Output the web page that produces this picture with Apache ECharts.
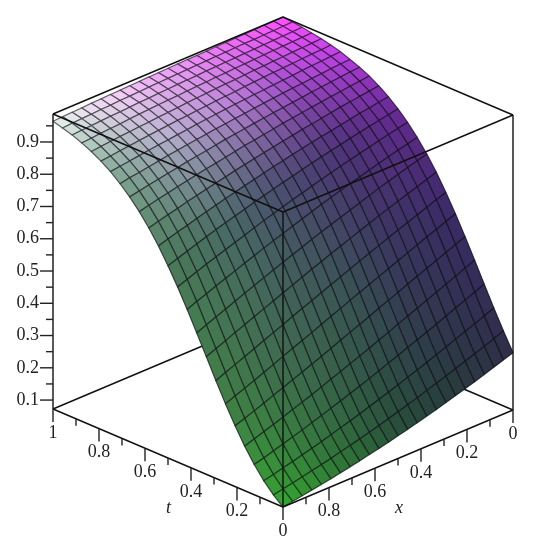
<!DOCTYPE html>
<html>
<head>
<meta charset="utf-8">
<script src="https://cdn.jsdelivr.net/npm/echarts@6/dist/echarts.min.js"></script>
<style>
  html, body { margin: 0; padding: 0; background: #fff; }
  #main { width: 536px; height: 550px; filter: blur(0.4px); }
</style>
</head>
<body>
<div id="main"></div>
<script>
  // 25 x 25 grid, x = i/24 and t = j/24, rows run along t
  const xSteps = [0, 1, 2, 3, 4, 5, 6, 7, 8, 9, 10, 11, 12, 13, 14, 15, 16, 17, 18, 19, 20, 21, 22, 23, 24]
  const tSteps = [0, 1, 2, 3, 4, 5, 6, 7, 8, 9, 10, 11, 12, 13, 14, 15, 16, 17, 18, 19, 20, 21, 22, 23, 24]
  const uValues = [
    [.250,.240,.230,.220,.210,.201,.192,.183,.174,.166,.158,.150,.143,.135,.128,.122,.115,.109,.103,.097,.092,.087,.082,.077,.072],
    [.305,.293,.282,.271,.261,.250,.240,.230,.220,.210,.201,.192,.183,.174,.166,.158,.150,.143,.135,.128,.122,.115,.109,.103,.097],
    [.363,.351,.339,.328,.316,.305,.293,.282,.271,.261,.250,.240,.230,.220,.210,.201,.192,.183,.174,.166,.158,.150,.143,.135,.128],
    [.424,.412,.400,.388,.375,.363,.351,.339,.328,.316,.305,.293,.282,.271,.261,.250,.240,.230,.220,.210,.201,.192,.183,.174,.166],
    [.486,.474,.461,.449,.437,.424,.412,.400,.388,.375,.363,.351,.339,.328,.316,.305,.293,.282,.271,.261,.250,.240,.230,.220,.210],
    [.546,.534,.522,.510,.498,.486,.474,.461,.449,.437,.424,.412,.400,.388,.375,.363,.351,.339,.328,.316,.305,.293,.282,.271,.261],
    [.604,.593,.581,.570,.558,.546,.534,.522,.510,.498,.486,.474,.461,.449,.437,.424,.412,.400,.388,.375,.363,.351,.339,.328,.316],
    [.658,.648,.637,.626,.615,.604,.593,.581,.570,.558,.546,.534,.522,.510,.498,.486,.474,.461,.449,.437,.424,.412,.400,.388,.375],
    [.708,.698,.688,.678,.668,.658,.648,.637,.626,.615,.604,.593,.581,.570,.558,.546,.534,.522,.510,.498,.486,.474,.461,.449,.437],
    [.752,.743,.735,.726,.717,.708,.698,.688,.678,.668,.658,.648,.637,.626,.615,.604,.593,.581,.570,.558,.546,.534,.522,.510,.498],
    [.791,.783,.776,.768,.760,.752,.743,.735,.726,.717,.708,.698,.688,.678,.668,.658,.648,.637,.626,.615,.604,.593,.581,.570,.558],
    [.825,.818,.812,.805,.798,.791,.783,.776,.768,.760,.752,.743,.735,.726,.717,.708,.698,.688,.678,.668,.658,.648,.637,.626,.615],
    [.854,.848,.843,.837,.831,.825,.818,.812,.805,.798,.791,.783,.776,.768,.760,.752,.743,.735,.726,.717,.708,.698,.688,.678,.668],
    [.879,.874,.869,.865,.859,.854,.848,.843,.837,.831,.825,.818,.812,.805,.798,.791,.783,.776,.768,.760,.752,.743,.735,.726,.717],
    [.900,.896,.892,.888,.884,.879,.874,.869,.865,.859,.854,.848,.843,.837,.831,.825,.818,.812,.805,.798,.791,.783,.776,.768,.760],
    [.918,.914,.911,.907,.904,.900,.896,.892,.888,.884,.879,.874,.869,.865,.859,.854,.848,.843,.837,.831,.825,.818,.812,.805,.798],
    [.932,.930,.927,.924,.921,.918,.914,.911,.907,.904,.900,.896,.892,.888,.884,.879,.874,.869,.865,.859,.854,.848,.843,.837,.831],
    [.944,.942,.940,.937,.935,.932,.930,.927,.924,.921,.918,.914,.911,.907,.904,.900,.896,.892,.888,.884,.879,.874,.869,.865,.859],
    [.955,.953,.951,.949,.947,.944,.942,.940,.937,.935,.932,.930,.927,.924,.921,.918,.914,.911,.907,.904,.900,.896,.892,.888,.884],
    [.963,.961,.960,.958,.956,.955,.953,.951,.949,.947,.944,.942,.940,.937,.935,.932,.930,.927,.924,.921,.918,.914,.911,.907,.904],
    [.970,.968,.967,.966,.964,.963,.961,.960,.958,.956,.955,.953,.951,.949,.947,.944,.942,.940,.937,.935,.932,.930,.927,.924,.921],
    [.975,.974,.973,.972,.971,.970,.968,.967,.966,.964,.963,.961,.960,.958,.956,.955,.953,.951,.949,.947,.944,.942,.940,.937,.935],
    [.980,.979,.978,.977,.976,.975,.974,.973,.972,.971,.970,.968,.967,.966,.964,.963,.961,.960,.958,.956,.955,.953,.951,.949,.947],
    [.984,.983,.982,.981,.980,.980,.979,.978,.977,.976,.975,.974,.973,.972,.971,.970,.968,.967,.966,.964,.963,.961,.960,.958,.956],
    [.987,.986,.986,.985,.984,.984,.983,.982,.981,.980,.980,.979,.978,.977,.976,.975,.974,.973,.972,.971,.970,.968,.967,.966,.964],
  ]
  const zMin = 0.0723
  const zMax = 0.9867
  const zMajorTicks = [0.1, 0.2, 0.3, 0.4, 0.5, 0.6, 0.7, 0.8, 0.9]
  const zMinorTicks = [0.15, 0.25, 0.35, 0.45, 0.55, 0.65, 0.75, 0.85, 0.95]
  const tMajorTicks = [0, 0.2, 0.4, 0.6, 0.8, 1]
  const tMinorTicks = [0.1, 0.3, 0.5, 0.7, 0.9]
  const xMajorTicks = [0, 0.2, 0.4, 0.6, 0.8]
  const xMinorTicks = [0.1, 0.3, 0.5, 0.7, 0.9]

  // colours, rows t = 0 .. 1, columns x = 0 .. 1
  const shade = [
    ["#2e2e48", "#283c3c", "#28503a", "#2f7a35", "#35a830"],
    ["#3a2a66", "#38385c", "#3a5852", "#3f6a50", "#3f7f45"],
    ["#6a2a98", "#50327a", "#4c4a72", "#4a6a68", "#4a7a58"],
    ["#c040e8", "#a850d0", "#b888d4", "#b4b0cc", "#85aa98"],
    ["#ff50ff", "#f070f8", "#f0a0f8", "#f8d4f8", "#e8f4ee"],
  ]

  function hex(c) {
    return [parseInt(c.slice(1, 3), 16), parseInt(c.slice(3, 5), 16), parseInt(c.slice(5, 7), 16)]
  }
  const shadeRgb = shade.map((r) => r.map(hex))

  function colorAt(x, t) {
    const a = Math.min(t * 4, 3.999)
    const b = Math.min(x * 4, 3.999)
    const r = Math.floor(a)
    const c = Math.floor(b)
    const fa = a - r
    const fb = b - c
    const out = [0, 1, 2].map((k) => {
      const top = shadeRgb[r][c][k] * (1 - fb) + shadeRgb[r][c + 1][k] * fb
      const bot = shadeRgb[r + 1][c][k] * (1 - fb) + shadeRgb[r + 1][c + 1][k] * fb
      return Math.round(top * (1 - fa) + bot * fa)
    })
    return "rgb(" + out.join(",") + ")"
  }

  // view of the box, in pixels of the plain cartesian plane under it
  function project(x, t, z) {
    return [
      283 - 230 * t + 230 * (1 - x),
      507 - 98 * t - 97 * (1 - x) - (295 * (z - zMin)) / (zMax - zMin),
    ]
  }

  function edge(a, b) {
    return a.concat(b)
  }
  const backEdges = [
    edge([1, 1, zMin], [0, 1, zMin]),
    edge([0, 0, zMin], [0, 1, zMin]),
    edge([0, 1, zMin], [0, 1, zMax]),
  ]
  const frontEdges = [
    edge([1, 1, zMax], [0, 1, zMax]),
    edge([0, 1, zMax], [0, 0, zMax]),
    edge([1, 1, zMax], [1, 0, zMax]),
    edge([0, 0, zMax], [1, 0, zMax]),
    edge([1, 0, zMax], [1, 0, zMin]),
    edge([0, 0, zMax], [0, 0, zMin]),
    edge([1, 1, zMax], [1, 1, zMin]),
    edge([1, 1, zMin], [1, 0, zMin]),
    edge([0, 0, zMin], [1, 0, zMin]),
  ]

  // back to front so nearer cells paint over farther ones
  const cells = []
  for (let j = tSteps.length - 2; j >= 0; j--) {
    for (let i = 0; i < xSteps.length - 1; i++) {
      cells.push([i, j])
    }
  }

  function renderEdge(params, api) {
    const a = api.coord(project(api.value(0), api.value(1), api.value(2)))
    const b = api.coord(project(api.value(3), api.value(4), api.value(5)))
    return {
      type: "line",
      shape: { x1: a[0], y1: a[1], x2: b[0], y2: b[1] },
      style: { stroke: "#111", lineWidth: 1.4 },
    }
  }

  function renderCell(params, api) {
    const i = api.value(0)
    const j = api.value(1)
    const n = xSteps.length - 1
    const pts = [[i, j], [i + 1, j], [i + 1, j + 1], [i, j + 1]].map((p) =>
      api.coord(project(xSteps[p[0]] / n, tSteps[p[1]] / n, uValues[p[1]][p[0]]))
    )
    const fill = colorAt((i + 0.5) / n, (j + 0.5) / n)
    return {
      type: "group",
      children: [
        { type: "polygon", shape: { points: pts }, style: { fill: fill, stroke: fill, lineWidth: 0.6 } },
        {
          type: "polyline",
          shape: { points: pts.concat([pts[0]]) },
          style: { fill: "none", stroke: "rgba(10,10,15,0.6)", lineWidth: 1.2 },
        },
      ],
    }
  }

  // kind: 0 z axis, 1 t axis, 2 x axis
  function renderTick(params, api) {
    const kind = api.value(0)
    const v = api.value(1)
    const major = api.value(2)
    let base
    if (kind === 0) base = api.coord(project(1, 1, v))
    if (kind === 1) base = api.coord(project(1, v, zMin))
    if (kind === 2) base = api.coord(project(v, 0, zMin))
    const len = major ? 13 : 7
    const line = {
      type: "line",
      shape:
        kind === 0
          ? { x1: base[0] - len, y1: base[1], x2: base[0], y2: base[1] }
          : { x1: base[0], y1: base[1], x2: base[0], y2: base[1] + len },
      style: { stroke: "#222", lineWidth: 1.4 },
    }
    if (!major) return line
    const label = String(v)
    return {
      type: "group",
      children: [
        line,
        {
          type: "text",
          style: {
            text: label,
            x: kind === 0 ? base[0] - 14 : base[0],
            y: kind === 0 ? base[1] : base[1] + 24,
            fill: "#222",
            font: '18px "Liberation Serif"',
            align: kind === 0 ? "right" : "center",
            verticalAlign: "middle",
          },
        },
      ],
    }
  }

  const tickData = []
  zMajorTicks.forEach((v) => tickData.push([0, v, 1]))
  zMinorTicks.forEach((v) => tickData.push([0, v, 0]))
  tMajorTicks.forEach((v) => tickData.push([1, v, 1]))
  tMinorTicks.forEach((v) => tickData.push([1, v, 0]))
  xMajorTicks.forEach((v) => tickData.push([2, v, 1]))
  xMinorTicks.forEach((v) => tickData.push([2, v, 0]))

  const chart = echarts.init(document.getElementById("main"))
  chart.setOption({
    animation: false,
    backgroundColor: "#fff",
    grid: { left: 0, right: 0, top: 0, bottom: 0 },
    xAxis: { type: "value", min: 0, max: 536, show: false },
    yAxis: { type: "value", min: 0, max: 550, inverse: true, show: false },
    // axis names sit free of the slanted axes
    graphic: [
      { type: "text", left: 166, top: 499, style: { text: "t", fill: "#222", font: 'italic 18px "Liberation Serif"' } },
      { type: "text", left: 395, top: 499, style: { text: "x", fill: "#222", font: 'italic 18px "Liberation Serif"' } },
    ],
    series: [
      { type: "custom", name: "back", z: 1, clip: false, silent: true, renderItem: renderEdge, data: backEdges },
      { type: "custom", name: "surface", z: 2, clip: false, silent: true, renderItem: renderCell, data: cells },
      { type: "custom", name: "front", z: 3, clip: false, silent: true, renderItem: renderEdge, data: frontEdges },
      { type: "custom", name: "ticks", z: 4, clip: false, silent: true, renderItem: renderTick, data: tickData },
    ],
  })
</script>
</body>
</html>
